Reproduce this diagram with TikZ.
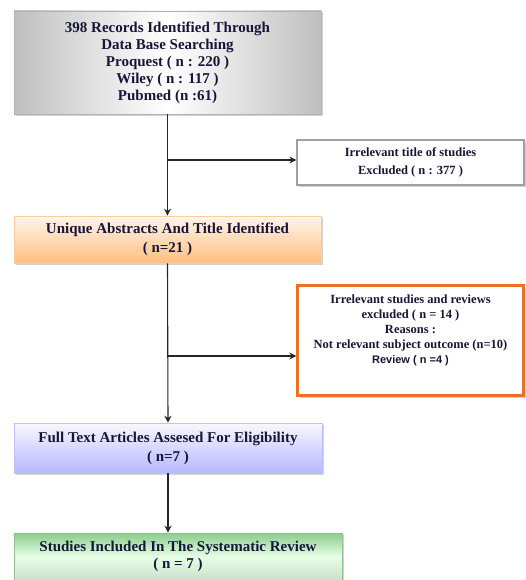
\documentclass[tikz,border=0pt]{standalone}
\usepackage{fontspec}
\setmainfont{Liberation Serif}
\newfontfamily\revfont{Liberation Sans}
\usepackage{tikz}
\usetikzlibrary{positioning,shadows,arrows.meta}

\definecolor{txtnavy}{HTML}{16163A}
\definecolor{boxorange}{HTML}{EC7128}

\begin{document}
\begin{tikzpicture}[x=1pt,y=1pt,>={Stealth[length=7pt,width=7pt]},semithick,
  box/.style={draw,rectangle,align=center,font=\bfseries,text=txtnavy,
    drop shadow={shadow xshift=2pt,shadow yshift=-2pt,fill=black!35}},
  flow/.style={->,draw=black!85,line width=1.1pt}]
\useasboundingbox (0,0) rectangle (526,-580);

\node[box,draw=gray!60,left color=gray!50,right color=gray!50,middle color=white,
  minimum width=307,minimum height=103,font=\bfseries\fontsize{15}{17}\selectfont]
  (records) at (167.5,-62.5)
  {398 Records Identified Through\\Data Base Searching\\Proquest ( n : 220 )\\Wiley ( n : 117 )\\Pubmed (n :61)};
\node[box,draw=gray!75,line width=1.2pt,fill=white,
  minimum width=227,minimum height=45,font=\bfseries\fontsize{12.5}{18}\selectfont]
  (titleexcl) at (410.5,-162.5)
  {Irrelevant title of studies\\Excluded ( n : 377 )};
\node[box,draw=orange!40,top color=orange!8,bottom color=orange!50,
  minimum width=307,minimum height=47,font=\bfseries\fontsize{15}{19}\selectfont]
  (unique) at (167.5,-239.5)
  {Unique Abstracts And Title Identified\\( n=21 )};
\node[box,draw=boxorange,line width=2.4pt,fill=white,drop shadow={opacity=0},
  minimum width=226,minimum height=110,font=\bfseries\fontsize{12.5}{15}\selectfont]
  (reasons) at (410.5,-340.5)
  {Irrelevant studies and reviews\\excluded ( n = 14 )\\Reasons :\\Not relevant subject outcome (n=10)\\{\revfont\fontsize{11}{15}\selectfont Review ( n =4 )}\\[8pt]};
\node[box,draw=blue!25,top color=blue!3,bottom color=blue!28,
  minimum width=308,minimum height=50,font=\bfseries\fontsize{15}{19}\selectfont]
  (fulltext) at (168,-448)
  {Full Text Articles Assesed For Eligibility\\( n=7 )};
\node[box,draw=green!50!black!45,top color=green!55!black!45,bottom color=green!40!black!20,middle color=green!10,
  minimum width=328,minimum height=47,font=\bfseries\fontsize{15}{17}\selectfont]
  (included) at (178,-556.5)
  {Studies Included In The Systematic Review\\( n = 7 )};

% trunk and branches
\coordinate (split1) at (167.5,-160);
\coordinate (split2) at (167.5,-356);
\draw[flow] (records.south) -- (unique.north);
\draw[flow] (split1) -- (split1 -| titleexcl.west);
\draw[flow] (unique.south) -- (fulltext.north);
\draw[flow] (split2) -- (split2 -| reasons.west);
\draw[flow] (fulltext.south) -- (included.north -| fulltext.south);
\end{tikzpicture}
\end{document}
